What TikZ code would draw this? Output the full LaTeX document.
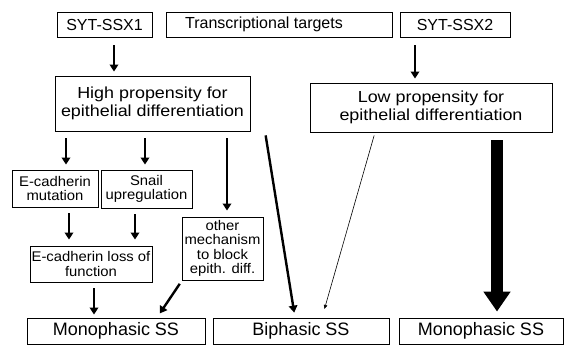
\documentclass[tikz,border=0pt]{standalone}
\usepackage{fontspec}
\setmainfont{Liberation Sans}
\newfontfamily\widefont[FakeStretch=1.12]{Liberation Sans}
\newfontfamily\smlfont[FakeStretch=1.06]{Liberation Sans}
\usetikzlibrary{arrows.meta}
\begin{document}
\begin{tikzpicture}[x=1pt,y=-1pt,
  box/.style={draw,line width=0.9pt,inner sep=1pt,align=center},
  big/.style={box,font=\fontsize{16}{18}\selectfont},
  bot/.style={box,font=\fontsize{18}{20}\selectfont},
  mid/.style={box,font=\widefont\fontsize{16}{18}\selectfont},
  sml/.style={box,font=\smlfont\fontsize{14}{14.5}\selectfont},
  arr/.style={line width=2.4pt,-{Triangle[length=7pt,width=8.5pt]}},
  thin/.style={line width=0.6pt,-{Triangle[length=4pt,width=3.5pt]}},
  fat/.style={line width=12pt,-{Triangle[length=20pt,width=26pt]}}]
\useasboundingbox (0,0) rectangle (567,346);
\node[big,minimum width=95pt,minimum height=25pt] (s1) at (104.5,24.5) {SYT-SSX1};
\node[big,minimum width=226pt,minimum height=25pt] (tt) at (279,24.5) {Transcriptional targets\rule{30pt}{0pt}};
\node[big,minimum width=110pt,minimum height=25pt] (s2) at (455,24.5) {SYT-SSX2};
\node[mid,minimum width=195pt,minimum height=55pt] (high) at (152.5,103.5) {High propensity for\\epithelial differentiation};
\node[mid,minimum width=242pt,minimum height=49pt] (low) at (431,107.5) {Low propensity for\\epithelial differentiation};
\node[sml,minimum width=86pt,minimum height=37pt] (ecm) at (55,188.5) {E-cadherin\\mutation};
\node[sml,minimum width=91pt,minimum height=38pt] (snail) at (146.5,189) {Snail\\upregulation};
\node[sml,minimum width=122pt,minimum height=36pt] (ecl) at (91,264) {E-cadherin loss of\\function};
\node[sml,minimum width=81pt,minimum height=63pt] (other) at (222.5,248.5) {other\\mechanism\\to block\\epith. diff.};
\node[bot,minimum width=178pt,minimum height=26pt] (mono1) at (116,331) {Monophasic SS};
\node[bot,minimum width=176pt,minimum height=26pt] (bi) at (301,331) {Biphasic SS};
\node[bot,minimum width=164pt,minimum height=26pt] (mono2) at (481,331) {Monophasic SS};
\draw[arr,shorten <=8pt,shorten >=4pt] ([xshift=9.5pt]s1.south) -- ([xshift=-38.5pt]high.north);
\draw[arr,shorten <=8pt,shorten >=4pt] ([xshift=-40pt]s2.south) -- ([xshift=-16pt]low.north);
\draw[arr,shorten <=7pt,shorten >=5pt] ([xshift=-86.5pt]high.south) -- ([xshift=11pt]ecm.north);
\draw[arr,shorten <=7pt,shorten >=5pt] ([xshift=-7.5pt]high.south) -- ([xshift=-1.5pt]snail.north);
\draw[arr,shorten <=7pt,shorten >=6pt] ([xshift=74.5pt]high.south) -- ([xshift=4.5pt]other.north);
\draw[arr,shorten <=4pt,shorten >=5pt] ([xshift=112.5pt]high.south) -- ([xshift=-6pt]bi.north);
\draw[arr,shorten <=6pt,shorten >=6pt] ([xshift=14pt]ecm.south) -- ([xshift=-22pt]ecl.north);
\draw[arr,shorten <=6pt,shorten >=6pt] ([xshift=-11.5pt]snail.south) -- ([xshift=44pt]ecl.north);
\draw[arr,shorten <=6pt,shorten >=3pt] ([xshift=3pt]ecl.south) -- ([xshift=-22pt]mono1.north);
\draw[arr,shorten <=4pt,shorten >=5pt] ([xshift=-40.5pt]other.south) -- ([xshift=41pt]mono1.north);
\draw[thin,shorten <=3pt,shorten >=9pt] ([xshift=-56pt]low.south) -- ([xshift=21pt]bi.north);
\draw[fat,shorten <=8pt,shorten >=6pt] ([xshift=66pt]low.south) -- ([xshift=16pt]mono2.north);
\end{tikzpicture}
\end{document}
